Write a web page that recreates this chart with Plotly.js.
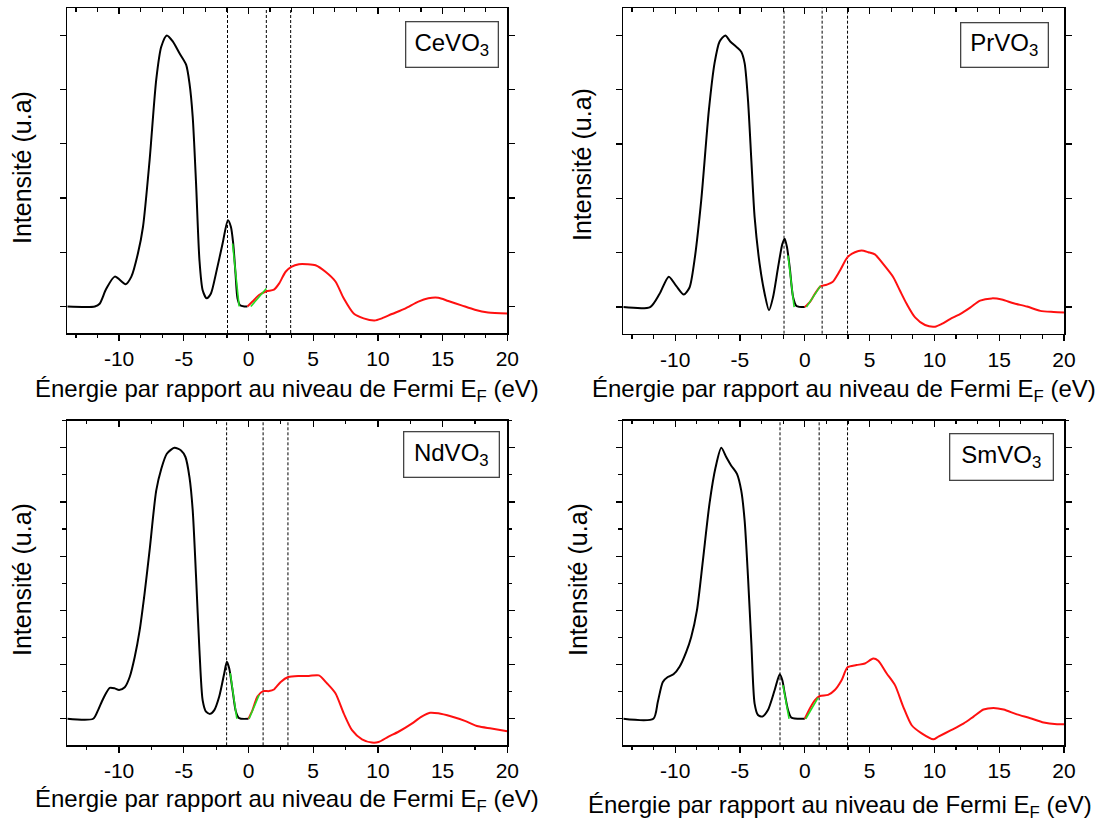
<!DOCTYPE html>
<html>
<head>
<meta charset="utf-8">
<script src="https://cdn.plot.ly/plotly-3.0.1.min.js"></script>
<style>html,body{margin:0;padding:0;background:#fff;}#chart{width:1102px;height:823px;}</style>
</head>
<body>
<div id="chart"></div>
<script>
// ---------- DATA ----------
const compounds = ['CeVO<sub>3</sub>', 'PrVO<sub>3</sub>', 'NdVO<sub>3</sub>', 'SmVO<sub>3</sub>'];

// CeVO3
const ceBlackE = [-14, -11.87, -11.5, -11.0, -10.33, -9.49, -9.05, -8.54, -8.15, -7.64, -7.13, -6.74, -6.31, -5.85, -5.33, -4.82, -4.56, -4.31, -4.05, -3.79, -3.54, -3.23, -2.90, -2.51, -2.0, -1.59, -1.36, -1.18, -1.0, -0.85, -0.65, -0.3, -0.08];
const ceBlackI = [0, 0, 0.05, 0.32, 0.55, 0.41, 0.55, 0.98, 1.47, 2.70, 4.18, 4.79, 5.0, 4.89, 4.67, 4.46, 4.12, 3.50, 2.27, 0.86, 0.30, 0.15, 0.24, 0.61, 1.16, 1.59, 1.47, 1.16, 0.6, 0.15, 0.02, 0.0, 0];
const ceRedE = [-0.08, 0.31, 0.82, 1.38, 1.97, 2.36, 2.87, 3.31, 3.90, 4.54, 5.18, 5.95, 6.72, 7.36, 8.13, 8.9, 9.74, 10.31, 11.08, 12.1, 13.13, 13.9, 14.67, 15.44, 16.46, 17.49, 18.51, 20];
const ceRedI = [0, 0.09, 0.21, 0.28, 0.31, 0.42, 0.64, 0.73, 0.78, 0.78, 0.76, 0.64, 0.46, 0.15, -0.13, -0.22, -0.26, -0.22, -0.14, -0.04, 0.09, 0.15, 0.16, 0.10, 0.02, -0.06, -0.11, -0.13];
const ceFitAE = [-1.23, -0.72], ceFitAI = [1.16, 0];
const ceFitBE = [0.18, 1.38], ceFitBI = [0, 0.33];
const ceMarks = [-1.62, 1.38, 3.26];

// PrVO3
const prBlackE = [-14, -11.93, -11.21, -10.49, -9.92, -9.33, -8.89, -8.51, -7.99, -7.40, -6.96, -6.57, -6.13, -5.75, -5.28, -4.90, -4.64, -4.38, -4.12, -3.87, -3.48, -3.09, -2.76, -2.45, -2.06, -1.73, -1.55, -1.37, -1.16, -0.90, -0.64, 0];
const prBlackI = [0, 0, 0.24, 0.56, 0.39, 0.23, 0.36, 0.86, 1.96, 3.62, 4.49, 4.89, 5.0, 4.89, 4.79, 4.70, 4.49, 3.81, 2.70, 1.66, 0.79, 0.24, -0.06, 0.18, 0.73, 1.16, 1.26, 1.10, 0.73, 0.18, 0.02, 0];
const prRedE = [0, 0.39, 0.77, 1.21, 1.68, 2.14, 2.71, 3.30, 3.87, 4.38, 4.90, 5.41, 6.06, 6.83, 7.35, 7.86, 8.51, 9.28, 10.05, 10.57, 11.21, 11.98, 12.76, 13.53, 14.43, 15.2, 16.11, 17.14, 18.17, 19.2, 20];
const prRedI = [0, 0.09, 0.24, 0.38, 0.41, 0.46, 0.67, 0.92, 1.01, 1.04, 1.01, 0.97, 0.79, 0.55, 0.30, 0.06, -0.19, -0.33, -0.36, -0.31, -0.22, -0.13, -0.01, 0.12, 0.16, 0.14, 0.07, 0.01, -0.07, -0.09, -0.10];
const prFitAE = [-1.29, -0.82], prFitAI = [0.95, 0];
const prFitBE = [0.13, 1.21], prFitBI = [0, 0.39];
const prMarks = [-1.60, 1.34, 3.30];

// NdVO3
const ndBlackE = [-14, -12.0, -11.62, -11.23, -10.72, -10.33, -10.0, -9.56, -9.18, -8.79, -8.41, -8.03, -7.64, -7.13, -6.74, -6.31, -5.72, -5.21, -4.87, -4.56, -4.31, -4.05, -3.79, -3.54, -3.28, -2.97, -2.64, -2.26, -1.87, -1.67, -1.49, -1.23, -0.97, -0.72, 0];
const ndBlackI = [0, 0, 0.16, 0.37, 0.57, 0.56, 0.53, 0.58, 0.77, 1.14, 1.63, 2.31, 3.11, 4.21, 4.61, 4.89, 5.0, 4.95, 4.83, 4.46, 3.85, 2.62, 1.27, 0.34, 0.13, 0.09, 0.16, 0.41, 0.84, 1.05, 0.93, 0.53, 0.13, 0.01, 0];
const ndRedE = [0, 0.31, 0.69, 1.13, 1.59, 1.97, 2.49, 3.08, 3.90, 4.67, 5.44, 6.08, 6.72, 7.36, 8.0, 8.77, 9.54, 10.05, 10.82, 11.59, 12.62, 13.38, 14.03, 14.67, 15.69, 16.72, 17.74, 18.77, 20];
const ndRedI = [0, 0.16, 0.41, 0.51, 0.51, 0.54, 0.68, 0.77, 0.79, 0.79, 0.80, 0.65, 0.47, 0.10, -0.21, -0.38, -0.44, -0.43, -0.33, -0.24, -0.09, 0.04, 0.11, 0.10, 0.04, -0.04, -0.14, -0.18, -0.23];
const ndFitAE = [-1.41, -0.90], ndFitAI = [0.84, 0];
const ndFitBE = [0.05, 0.82], ndFitBI = [0, 0.44];
const ndMarks = [-1.69, 1.13, 3.05];

// SmVO3
const smBlackE = [-14, -11.68, -11.34, -10.95, -10.57, -10.13, -9.66, -9.15, -8.76, -8.32, -7.86, -7.35, -6.88, -6.44, -6.06, -5.67, -5.23, -4.90, -4.64, -4.38, -4.12, -3.87, -3.61, -3.27, -2.84, -2.32, -1.93, -1.73, -1.55, -1.29, -1.03, 0];
const smBlackI = [0, 0, 0.31, 0.68, 0.77, 0.82, 0.96, 1.23, 1.51, 2.0, 2.92, 3.97, 4.64, 5.0, 4.83, 4.67, 4.52, 4.21, 3.66, 2.62, 1.39, 0.28, 0.07, 0.04, 0.16, 0.53, 0.82, 0.71, 0.47, 0.16, 0.02, 0];
const smRedE = [0, 0.39, 0.77, 1.16, 1.80, 2.32, 2.84, 3.30, 3.99, 4.64, 5.28, 5.67, 6.31, 6.96, 7.60, 8.25, 9.02, 9.92, 10.31, 11.21, 12.24, 13.02, 13.79, 14.56, 15.34, 16.37, 17.4, 18.43, 19.46, 20];
const smRedI = [0, 0.19, 0.34, 0.42, 0.44, 0.53, 0.71, 0.95, 0.99, 1.02, 1.11, 1.07, 0.84, 0.62, 0.22, -0.12, -0.27, -0.38, -0.33, -0.22, -0.09, 0.04, 0.17, 0.20, 0.17, 0.08, 0.01, -0.07, -0.10, -0.10];
const smFitAE = [-1.68, -1.21], smFitAI = [0.62, 0];
const smFitBE = [0.08, 1.03], smFitBI = [0, 0.39];
const smMarks = [-1.91, 1.11, 3.30];

const xTickVals = [-10, -5, 0, 5, 10, 15, 20];
const xTickText = ['-10', '-5', '0', '5', '10', '15', '20'];
const xTitleText = 'Énergie par rapport au niveau de Fermi E<sub>F</sub> (eV)';
const yTitleText = 'Intensité (u.a)';

// ---------- BUILD ----------
const W = 1102, H = 823;
const FONT = 'Arial, "Liberation Sans", sans-serif';
const panels = [
  {name: compounds[0], bE: ceBlackE, bI: ceBlackI, rE: ceRedE, rI: ceRedI, aE: ceFitAE, aI: ceFitAI, cE: ceFitBE, cI: ceFitBI, marks: ceMarks,
   px: [67.3, 507.3], py: [8.3, 333], xminor: 5/3, yminor: 0,
   box: {cx: 451.5, cy: 45, w: 93, h: 46}, xt: {x: 286.5, y: 390}, yt: {x: 22, y: 168}},
  {name: compounds[1], bE: prBlackE, bI: prBlackI, rE: prRedE, rI: prRedI, aE: prFitAE, aI: prFitAI, cE: prFitBE, cI: prFitBI, marks: prMarks,
   px: [623.3, 1064], py: [8.3, 333.7], xminor: 5/3, yminor: 0,
   box: {cx: 1004, cy: 44.5, w: 88, h: 45}, xt: {x: 844, y: 390}, yt: {x: 582, y: 165}},
  {name: compounds[2], bE: ndBlackE, bI: ndBlackI, rE: ndRedE, rI: ndRedI, aE: ndFitAE, aI: ndFitAI, cE: ndFitBE, cI: ndFitBI, marks: ndMarks,
   px: [67.3, 507.3], py: [420.7, 745.3], xminor: 2.5, yminor: 0.5,
   box: {cx: 451, cy: 454, w: 96, h: 46}, xt: {x: 287, y: 800}, yt: {x: 22, y: 580}},
  {name: compounds[3], bE: smBlackE, bI: smBlackI, rE: smRedE, rI: smRedI, aE: smFitAE, aI: smFitAI, cE: smFitBE, cI: smFitBI, marks: smMarks,
   px: [623.3, 1064], py: [420.7, 745.3], xminor: 5/3, yminor: 0.5,
   box: {cx: 1001, cy: 457.5, w: 104, h: 47}, xt: {x: 840, y: 806}, yt: {x: 578, y: 580}}
];

const traces = [];
const layout = {
  width: W, height: H,
  margin: {l: 0, r: 0, t: 0, b: 0},
  paper_bgcolor: '#fff', plot_bgcolor: '#fff',
  showlegend: false,
  font: {family: FONT, color: '#000'},
  shapes: [], annotations: []
};

panels.forEach((p, i) => {
  const n = i + 1;
  const xs = n === 1 ? 'x' : 'x' + n;
  const ys = n === 1 ? 'y' : 'y' + n;
  const xk = n === 1 ? 'xaxis' : 'xaxis' + n;
  const yk = n === 1 ? 'yaxis' : 'yaxis' + n;
  const topN = n + 4;
  const xd = [p.px[0] / W, p.px[1] / W];
  const yd = [1 - p.py[1] / H, 1 - p.py[0] / H];

  layout[xk] = {
    domain: xd, anchor: ys, range: [-14, 20], autorange: false,
    tickmode: 'array', tickvals: xTickVals, ticktext: xTickText,
    ticks: 'outside', ticklen: 6, tickwidth: 1.3, tickcolor: '#000',
    showline: true, linecolor: '#000', linewidth: 1.6, mirror: true,
    showgrid: false, zeroline: false,
    tickfont: {family: FONT, size: 21, color: '#000'},
    minor: {dtick: p.xminor, tick0: -10, ticks: 'outside', ticklen: 3.5, tickwidth: 1.2, tickcolor: '#000', showgrid: false}
  };
  layout['xaxis' + topN] = {
    overlaying: xs, side: 'top', anchor: ys, range: [-14, 20], autorange: false,
    tickmode: 'linear', tick0: 0, dtick: 5,
    ticks: 'inside', ticklen: 6, tickwidth: 1.3, tickcolor: '#000',
    showticklabels: false, showline: false, showgrid: false, zeroline: false,
    minor: {dtick: p.xminor, tick0: -10, ticks: 'inside', ticklen: 3.5, tickwidth: 1.2, tickcolor: '#000', showgrid: false}
  };
  const yax = {
    domain: yd, anchor: xs, range: [-0.49, 5.5], autorange: false,
    tickmode: 'linear', tick0: 0, dtick: 1,
    ticks: 'outside', ticklen: 6, tickwidth: 1.3, tickcolor: '#000',
    showticklabels: false,
    showline: true, linecolor: '#000', linewidth: 1.6, mirror: 'ticks',
    showgrid: false, zeroline: false
  };
  if (p.yminor) {
    yax.minor = {dtick: p.yminor, tick0: 0, ticks: 'outside', ticklen: 3.5, tickwidth: 1.2, tickcolor: '#000', showgrid: false};
  }
  layout[yk] = yax;

  // anchor trace for top tick axis (invisible)
  traces.push({x: [-14, 20], y: [0, 0], xaxis: 'x' + topN, yaxis: ys, mode: 'lines',
    line: {width: 0, color: 'rgba(0,0,0,0)'}, hoverinfo: 'skip', showlegend: false});

  traces.push({x: p.bE, y: p.bI, xaxis: xs, yaxis: ys, mode: 'lines', name: p.name + ' VB',
    line: {color: '#000', width: 2, shape: 'spline', smoothing: 0.7}});
  traces.push({x: p.rE, y: p.rI, xaxis: xs, yaxis: ys, mode: 'lines', name: p.name + ' CB',
    line: {color: '#ff1010', width: 2, shape: 'spline', smoothing: 0.7}});
  traces.push({x: p.aE, y: p.aI, xaxis: xs, yaxis: ys, mode: 'lines', name: p.name + ' fit VB',
    line: {color: '#22dd22', width: 1.6}});
  traces.push({x: p.cE, y: p.cI, xaxis: xs, yaxis: ys, mode: 'lines', name: p.name + ' fit CB',
    line: {color: '#22dd22', width: 1.6}});

  p.marks.forEach(m => {
    layout.shapes.push({type: 'line', xref: xs, yref: ys + ' domain', x0: m, x1: m, y0: 0, y1: 1,
      line: {color: '#000', width: 1, dash: '3px,2px'}, layer: 'below'});
  });

  layout.annotations.push({
    xref: 'paper', yref: 'paper', x: p.box.cx / W, y: 1 - p.box.cy / H,
    xanchor: 'center', yanchor: 'middle', showarrow: false,
    text: p.name, font: {family: FONT, size: 24, color: '#000'},
    bordercolor: '#444', borderwidth: 1.3, borderpad: 0,
    width: p.box.w - 2, height: p.box.h - 2, bgcolor: '#fff'
  });
  layout.annotations.push({
    xref: 'paper', yref: 'paper', x: p.xt.x / W, y: 1 - p.xt.y / H,
    xanchor: 'center', yanchor: 'middle', showarrow: false,
    text: xTitleText, font: {family: FONT, size: 24, color: '#000'}
  });
  layout.annotations.push({
    xref: 'paper', yref: 'paper', x: p.yt.x / W, y: 1 - p.yt.y / H,
    xanchor: 'center', yanchor: 'middle', showarrow: false, textangle: -90,
    text: yTitleText, font: {family: FONT, size: 25, color: '#000'}
  });
});

Plotly.newPlot('chart', traces, layout, {staticPlot: true, displayModeBar: false});
</script>
</body>
</html>
